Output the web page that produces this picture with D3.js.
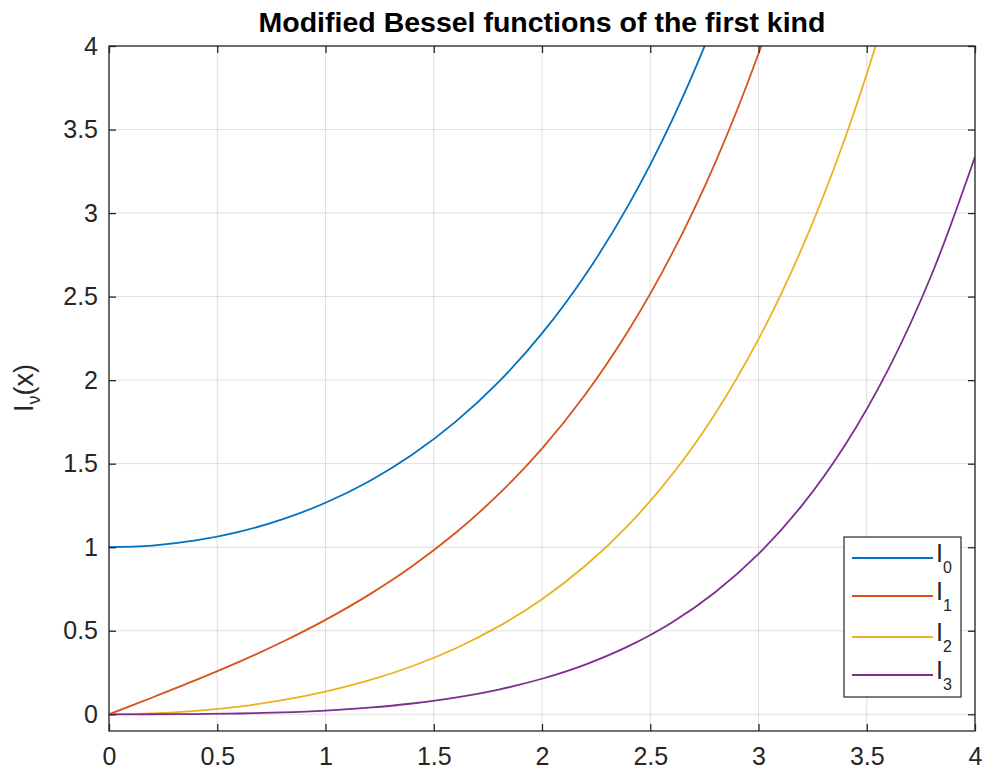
<!DOCTYPE html>
<html><head><meta charset="utf-8">
<script src="https://cdn.jsdelivr.net/npm/d3@7"></script>
<style>body{margin:0;background:#fff}svg{display:block}</style>
</head><body>
<script>
const xs = [0,0.2,0.4,0.6,0.8,1.0,1.2,1.4,1.6,1.8,2.0,2.2,2.4,2.6,2.8,3.0,3.2,3.4,3.6,3.8,4.0];
const I0 = [1,1.01003,1.04040,1.09205,1.16651,1.26607,1.39373,1.55340,1.74998,1.98956,2.27959,2.62914,3.04926,3.55327,4.15729,4.88079,5.74721,6.78481,8.02768,9.51686,11.30192];
const I1 = [0,0.10050,0.20403,0.31370,0.43286,0.56516,0.71475,0.88609,1.08481,1.31717,1.59064,1.91409,2.29812,2.75538,3.30105,3.95337,4.73433,5.67010,6.79271,8.14040,9.75947];
const I2 = [0,0.00502,0.02027,0.04638,0.08436,0.13575,0.20248,0.28755,0.39397,0.52604,0.68895,0.88902,1.13420,1.43380,1.79940,2.24521,2.78829,3.44950,4.25400,5.23250,6.42219];
const I3 = [0,0.00017,0.00135,0.00460,0.01110,0.02217,0.03936,0.06452,0.09989,0.14819,0.21274,0.29762,0.40787,0.54963,0.73049,0.95976,1.24889,1.61191,2.06600,2.63250,3.33728];
const seriesNames = ["0","1","2","3"];
const colors = ["#0072BD","#D95319","#EDB120","#7E2F8E"];
const xTicks = [0,0.5,1,1.5,2,2.5,3,3.5,4];
const yTicks = [0,0.5,1,1.5,2,2.5,3,3.5,4];
const titleText = "Modified Bessel functions of the first kind";

const W=984,H=769;
const L=109,R=975,T=46,B=731;
const svg=d3.select("body").append("svg").attr("width",W).attr("height",H);
const x=d3.scaleLinear().domain([0,4]).range([L,R]);
const y=d3.scaleLinear().domain([-0.1,4]).range([B,T]);
const font="'Liberation Sans', Arial, Helvetica, sans-serif";
const axc="#262626";

// grid
const g=svg.append("g");
g.selectAll("line.gx").data(xTicks).join("line").attr("x1",d=>x(d)).attr("x2",d=>x(d)).attr("y1",T).attr("y2",B)
 .attr("stroke",axc).attr("stroke-opacity",0.15).attr("stroke-width",1);
g.selectAll("line.gy").data(yTicks).join("line").attr("y1",d=>y(d)).attr("y2",d=>y(d)).attr("x1",L).attr("x2",R)
 .attr("stroke",axc).attr("stroke-opacity",0.15).attr("stroke-width",1);

// clip
svg.append("clipPath").attr("id","clip").append("rect").attr("x",L).attr("y",T).attr("width",R-L).attr("height",B-T);
const line=d3.line().x(d=>x(d[0])).y(d=>y(d[1])).curve(d3.curveCatmullRom);
const all=[I0,I1,I2,I3];
all.forEach((s,i)=>{
  svg.append("path").attr("clip-path","url(#clip)").datum(xs.map((v,j)=>[v,s[j]]))
   .attr("d",line).attr("fill","none").attr("stroke",colors[i]).attr("stroke-width",1.8);
});

// axes (box + inward ticks)
const tl=7;
const axB=d3.axisBottom(x).tickValues(xTicks).tickSize(-tl).tickPadding(16).tickFormat(d3.format("~g"));
const axL=d3.axisLeft(y).tickValues(yTicks).tickSize(-tl).tickPadding(11).tickFormat(d3.format("~g"));
const axT=d3.axisTop(x).tickValues(xTicks).tickSize(-tl).tickFormat("");
const axR=d3.axisRight(y).tickValues(yTicks).tickSize(-tl).tickFormat("");
function style(sel){sel.selectAll("path.domain").remove();
  sel.selectAll(".tick line").attr("stroke",axc).attr("stroke-width",1.3);
  sel.selectAll("text").attr("fill",axc).attr("font-family",font).attr("font-size",25);}
style(svg.append("g").attr("transform",`translate(0,${B})`).call(axB));
style(svg.append("g").attr("transform",`translate(${L},0)`).call(axL));
style(svg.append("g").attr("transform",`translate(0,${T})`).call(axT));
style(svg.append("g").attr("transform",`translate(${R},0)`).call(axR));
svg.append("rect").attr("x",L).attr("y",T).attr("width",R-L).attr("height",B-T).attr("fill","none").attr("stroke",axc).attr("stroke-width",1.3);

// title
svg.append("text").attr("x",(L+R)/2).attr("y",32).attr("text-anchor","middle").attr("font-family",font)
 .attr("font-weight","bold").attr("font-size",28.5).attr("fill","#000").text(titleText);

// y label
const yl=svg.append("text").attr("transform",`translate(33,388) rotate(-90)`).attr("text-anchor","middle")
 .attr("font-family",font).attr("font-size",27).attr("fill",axc);
yl.append("tspan").text("I");
yl.append("tspan").attr("dy",7).attr("font-size",18).text("ν");
yl.append("tspan").attr("dy",-7).text("(x)");

// legend
const lg=svg.append("g");
lg.append("rect").attr("x",844).attr("y",537).attr("width",117).attr("height",160).attr("fill","#fff").attr("stroke",axc).attr("stroke-width",1.2);
const ly=[558,596,637,675];
seriesNames.forEach((n,i)=>{
  lg.append("line").attr("x1",852).attr("x2",933).attr("y1",ly[i]).attr("y2",ly[i]).attr("stroke",colors[i]).attr("stroke-width",1.8);
  const t=lg.append("text").attr("x",936).attr("y",ly[i]+4).attr("font-family",font).attr("font-size",25).attr("fill",axc);
  t.append("tspan").text("I");
  t.append("tspan").attr("dy",11).attr("font-size",16).text(n);
});
</script>
</body></html>
